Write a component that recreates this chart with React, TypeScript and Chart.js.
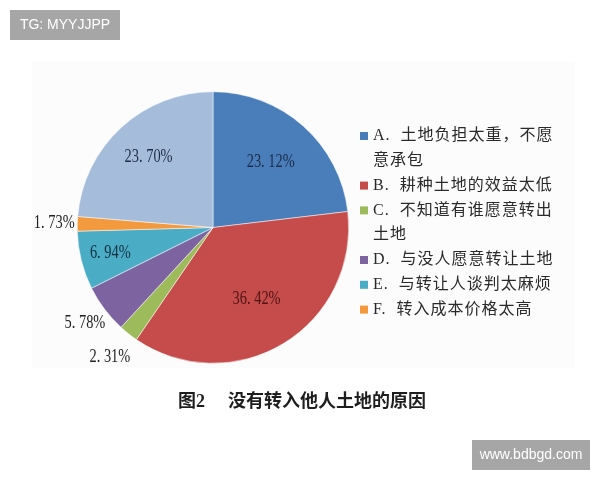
import React, { useEffect, useRef } from "react";
import { Chart, registerables } from "chart.js";
import type { Plugin } from "chart.js";

Chart.register(...registerables);

// slice order: clockwise from 12 o'clock
const sliceKeys = ["A", "B", "C", "D", "E", "F", "G"];
const sliceValues = [23.12, 36.42, 2.31, 5.78, 6.94, 1.73, 23.7];
const sliceColors = ["#4a7ebb", "#c64c4b", "#9dbb5a", "#7e63a1", "#4bacc6", "#f49a3e", "#a5bddb"];
const labelColors = ["#1c2c48", "#4a1414", "#222222", "#222222", "#123040", "#222222", "#1c2c48"];
// radial position of each value label, as fraction of radius
const labelRadius = [0.64, 0.62, 1.22, 1.18, 0.78, 1.17, 0.7];

// legend rows (A..F); continuation lines have no marker
const legendRows = [
  { key: "A", text: "A.  土地负担太重，不愿" },
  { key: "", text: "意承包" },
  { key: "B", text: "B.  耕种土地的效益太低" },
  { key: "C", text: "C.  不知道有谁愿意转出" },
  { key: "", text: "土地" },
  { key: "D", text: "D.  与没人愿意转让土地" },
  { key: "E", text: "E.  与转让人谈判太麻烦" },
  { key: "F", text: "F.  转入成本价格太高" },
];

const captionFig = "图2";
const captionText = "没有转入他人土地的原因";

const fmt = (v: number) => v.toFixed(2).replace(".", ". ") + "%";

const App: React.FC = () => {
  const canvasRef = useRef<HTMLCanvasElement | null>(null);
  const chartRef = useRef<Chart | null>(null);

  useEffect(() => {
    const canvas = canvasRef.current;
    if (!canvas) return;
    const ctx = canvas.getContext("2d");
    if (!ctx) return;

    if (chartRef.current) {
      chartRef.current.destroy();
      chartRef.current = null;
    }

    // faint paper background behind the figure
    const paper: Plugin<"pie"> = {
      id: "paper",
      beforeDraw: (chart) => {
        const c = chart.ctx;
        c.save();
        c.fillStyle = "#fcfcfc";
        c.fillRect(32, 62, 543, 306);
        c.restore();
      },
    };

    // value labels on / beside slices
    const valueLabels: Plugin<"pie"> = {
      id: "valueLabels",
      afterDatasetsDraw: (chart) => {
        const meta = chart.getDatasetMeta(0);
        const c = chart.ctx;
        c.save();
        meta.data.forEach((el: any, i) => {
          const { x, y, startAngle, endAngle, outerRadius } = el.getProps(
            ["x", "y", "startAngle", "endAngle", "outerRadius"],
            true
          );
          const mid = (startAngle + endAngle) / 2;
          const r = outerRadius * labelRadius[i];
          const lx = x + Math.cos(mid) * r;
          const ly = y + Math.sin(mid) * r;
          c.save();
          c.translate(lx, ly);
          c.scale(0.8, 1);
          c.font = '18px "Liberation Serif", "DejaVu Serif", serif';
          c.fillStyle = labelColors[i];
          c.textAlign = "center";
          c.textBaseline = "middle";
          c.fillText(fmt(sliceValues[i]), 0, 0);
          c.restore();
        });
        c.restore();
      },
    };

    // legend, caption and watermarks
    const decor: Plugin<"pie"> = {
      id: "decor",
      afterDraw: (chart) => {
        const c = chart.ctx;
        c.save();
        // legend
        const lx = 360;
        let ly = 136;
        legendRows.forEach((row) => {
          if (row.key) {
            const idx = sliceKeys.indexOf(row.key);
            c.fillStyle = sliceColors[idx];
            c.fillRect(lx, ly - 4, 8, 8);
          }
          c.fillStyle = "#2a2a2a";
          c.font = '16px "Liberation Serif", "Noto Sans CJK SC", serif';
          (c as any).letterSpacing = "1px";
          c.textBaseline = "middle";
          c.textAlign = "left";
          c.fillText(row.text, lx + 13, ly);
          ly += 24.8;
        });
        (c as any).letterSpacing = "0px";

        // caption
        c.fillStyle = "#1e1e1e";
        c.font = 'bold 18px "Liberation Serif", "Noto Sans CJK SC", serif';
        c.textBaseline = "middle";
        c.fillText(captionFig, 178, 402);
        c.fillText(captionText, 228, 402);

        // watermarks
        c.fillStyle = "#a6a6a6";
        c.fillRect(10, 10, 110, 30);
        c.fillRect(472, 440, 118, 30);
        c.fillStyle = "#ffffff";
        c.font = '14px "Liberation Sans", sans-serif';
        c.textAlign = "center";
        c.fillText("TG: MYYJJPP", 65, 25);
        c.fillText("www.bdbgd.com", 531, 455);
        c.restore();
      },
    };

    chartRef.current = new Chart(ctx, {
      type: "pie",
      data: {
        labels: sliceKeys,
        datasets: [
          {
            data: sliceValues,
            backgroundColor: sliceColors,
            borderColor: "#ffffff",
            borderWidth: 0.5,
          },
        ],
      },
      options: {
        responsive: false,
        animation: false,
        layout: { padding: { left: 77, right: 251, top: 91, bottom: 116 } },
        plugins: {
          legend: { display: false },
          tooltip: { enabled: false },
        },
      },
      plugins: [paper, valueLabels, decor],
    });

    return () => {
      if (chartRef.current) {
        chartRef.current.destroy();
        chartRef.current = null;
      }
    };
  }, []);

  return (
    <div style={{ position: "absolute", left: 0, top: 0, width: 600, height: 480, background: "#ffffff" }}>
      <canvas ref={canvasRef} width={600} height={480} style={{ width: 600, height: 480 }} />
    </div>
  );
};

export default App;
